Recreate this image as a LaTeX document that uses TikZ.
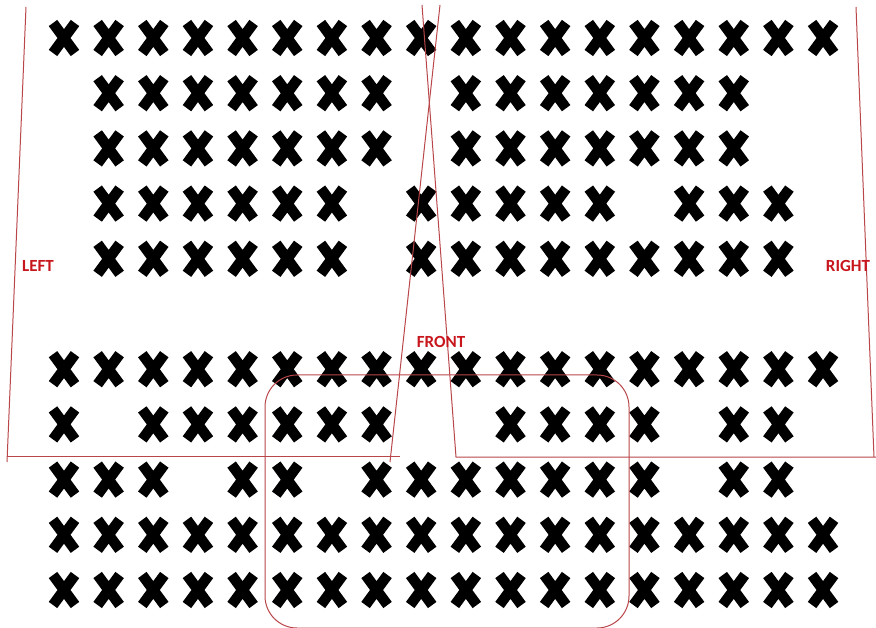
\documentclass[tikz,border=0pt]{standalone}
\usepackage{fontspec}
\newfontfamily\labelfont{Carlito}[BoldFont={Carlito Bold}]
\usetikzlibrary{positioning,calc}
\definecolor{wallred}{HTML}{B9474A}
\definecolor{tagred}{HTML}{C8161D}

\begin{document}
\begin{tikzpicture}[x=1pt,y=-1pt,
      seat/.style={line width=10.5pt,line cap=butt},
      wall/.style={wallred,line width=1pt},
      tag/.style={font=\labelfont\bfseries\fontsize{17}{19}\selectfont,text=tagred,inner sep=0pt}]
    \useasboundingbox (0,0) rectangle (876,628);
    % seats, row by row (row 5 is the aisle)
    \foreach \r/\cols in {0/{0,...,17},
        1/{1,2,3,4,5,6,7,9,10,11,12,13,14,15},
        2/{1,2,3,4,5,6,7,9,10,11,12,13,14,15},
        3/{1,2,3,4,5,6,8,9,10,11,12,14,15,16},
        4/{1,2,3,4,5,6,8,9,10,11,12,13,14,15,16},
        6/{0,...,17},
        7/{0,2,3,4,5,6,7,10,11,12,13,15,16},
        8/{0,1,2,4,5,7,8,9,10,11,12,13,15,16},
        9/{0,...,17},
        10/{0,...,17}}
      \foreach \c in \cols {
        \coordinate (s) at ({64+44.65*\c},{38+55.2*\r});
        \draw[seat] ([shift={(-11,-15)}]s) -- ([shift={(11,15)}]s)
                    ([shift={(-11,15)}]s) -- ([shift={(11,-15)}]s);
      }
    % left and right blocks
    \draw[wall] (26,7) -- (7,462);
    \draw[wall] (7,456) -- (400,456);
    \draw[wall] (440,5) -- (390,462);
    \draw[wall] (422,5) -- (456,457) -- (876,457);
    \draw[wall] (856,7) -- (874,457);
    % front area
    \draw[wall,rounded corners=32pt] (265,375) rectangle (629,628);
    \node[tag] (left) at (38,266) {LEFT};
    \node[tag] (right) at (848,266) {RIGHT};
    \node[tag] (front) at (441,342) {FRONT};
  \end{tikzpicture}
\end{document}
